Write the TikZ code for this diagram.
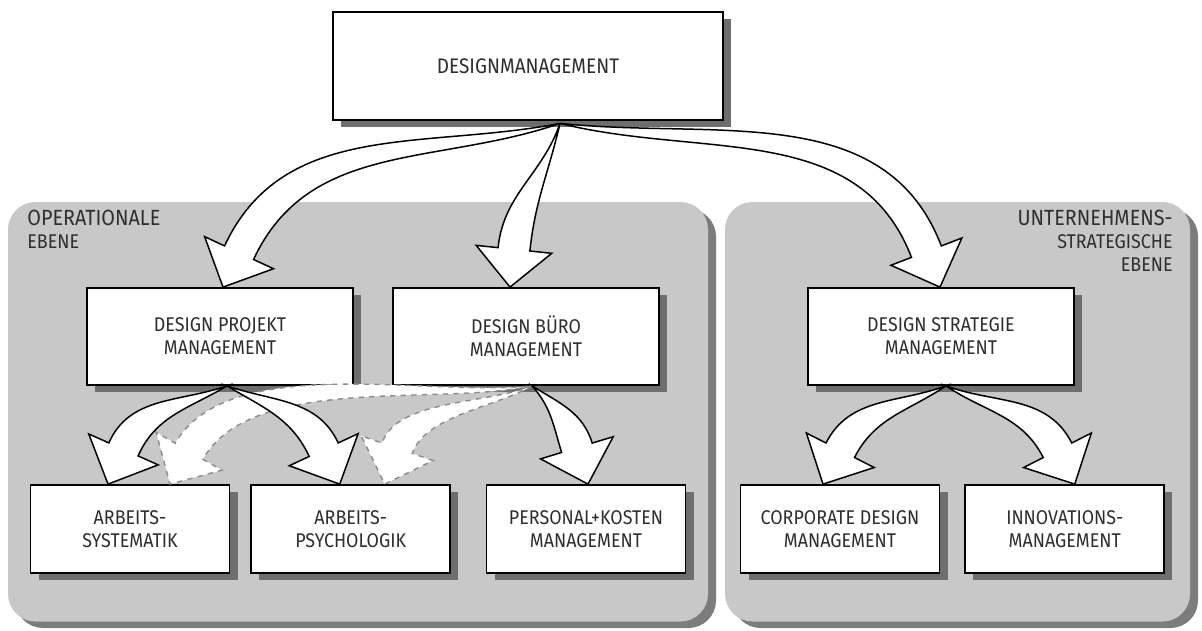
\documentclass[tikz,border=0pt]{standalone}
\usepackage{fontspec}
\setsansfont{Fira Sans}[FakeStretch=0.9]
\usepackage{tikz}
\usetikzlibrary{shadows}
\usetikzlibrary{calc}
\usetikzlibrary{positioning}
\usepackage{xcolor}
\definecolor{mygray}{HTML}{C8C8C8}
\definecolor{mypanelshadow}{HTML}{7C7C7C}
\definecolor{myshadow}{HTML}{6E6E6E}
\definecolor{mytext}{HTML}{2E2E2E}
\definecolor{myghost}{HTML}{8C8C8C}
\tikzset{node distance=0.4cm, every text node part/.style={font={\sffamily\fontsize{11.3}{13}\selectfont}}}
\tikzstyle{block} = [draw=black, fill=white, line width=1pt, align=center, text=mytext, minimum width=5.32cm, minimum height=1.94cm, inner sep=0pt, drop shadow={shadow xshift=0.16cm, shadow yshift=-0.14cm, fill=myshadow, opacity=1}]
\tikzstyle{leaf} = [block, minimum width=3.98cm, minimum height=1.76cm]
\tikzstyle{panel} = [fill=mygray, rounded corners=0.55cm]
\tikzstyle{panelshadow} = [fill=mypanelshadow, rounded corners=0.55cm]
\tikzstyle{fat} = [draw=black, fill=white, line width=0.85pt, line join=miter]
\tikzstyle{ghost} = [draw=myghost, fill=white, dashed, line width=0.8pt, looseness=0.75]
% fat arrow: [style]{from}{tip}{out angle}{head angle}{spread}
\newcommand{\fatarrow}[6][fat]{%
  \pgfmathsetmacro{\outL}{#4+#6}
  \pgfmathsetmacro{\outR}{#4-#6}
  \pgfmathsetmacro{\back}{#5+180}
  \pgfmathsetmacro{\sideL}{#5+90}
  \pgfmathsetmacro{\sideR}{#5-90}
  \coordinate (hb) at ($(#3)+(\back:0.76)$);
  \draw[#1] (#2) to[out=\outL, in=\back] ($(hb)+(\sideL:0.32)$)
    -- ($(hb)+(\sideL:0.76)$) -- (#3) -- ($(hb)+(\sideR:0.76)$)
    -- ($(hb)+(\sideR:0.32)$) to[out=\back, in=\outR] (#2) -- cycle;
}

\begin{document}
\begin{tikzpicture}
  \useasboundingbox (0,0) rectangle (24.04,12.6);
  % panels
  \fill[panelshadow] (0.31,0.04) rectangle (14.32,8.42);
  \fill[panel] (0.16,0.17) rectangle (14.16,8.56);
  \fill[panelshadow] (14.66,0.04) rectangle (23.96,8.42);
  \fill[panel] (14.5,0.17) rectangle (23.8,8.56);
  \node[anchor=north west, align=left, text=mytext, inner sep=0pt] (opLabel) at (0.54,8.4) {\fontsize{12.5}{14}\selectfont OPERATIONALE\\EBENE};
  \node[anchor=north east, align=right, text=mytext, inner sep=0pt] (ueLabel) at (23.46,8.4) {\fontsize{12.5}{14}\selectfont UNTERNEHMENS-\\STRATEGISCHE\\EBENE};
  % boxes
  \node[block, minimum width=7.8cm, minimum height=2.16cm] (dm) at (10.56,11.28) {\fontsize{12}{14}\selectfont DESIGNMANAGEMENT};
  \node[block] (proj) at (4.40,5.87) {DESIGN PROJEKT\\MANAGEMENT};
  \node[block] (buero) at (10.52,5.87) {DESIGN BÜRO\\MANAGEMENT};
  \node[block] (strat) at (18.82,5.87) {DESIGN STRATEGIE\\MANAGEMENT};
  \node[leaf] (sys) at (2.60,2.02) {ARBEITS-\\SYSTEMATIK};
  \node[leaf, right=of sys] (psy) {ARBEITS-\\PSYCHOLOGIK};
  \node[leaf] (pers) at (11.72,2.02) {PERSONAL+KOSTEN\\MANAGEMENT};
  \node[leaf] (corp) at (16.80,2.02) {CORPORATE DESIGN\\MANAGEMENT};
  \node[leaf, right=0.48cm of corp] (innov) {INNOVATIONS-\\MANAGEMENT};
  % arrow ends
  \coordinate (dmOut) at ([xshift=0.64cm, yshift=-0.05cm]dm.south);
  \coordinate (projOut) at ([xshift=0.14cm]proj.south);
  \coordinate (bueroOut) at ([xshift=0.12cm]buero.south);
  \coordinate (stratOut) at ([xshift=0.1cm]strat.south);
  \coordinate (projIn) at ([xshift=0.06cm]proj.north);
  \coordinate (bueroIn) at ([xshift=-0.32cm]buero.north);
  \coordinate (stratIn) at ([xshift=-0.02cm]strat.north);
  \coordinate (sysIn) at ([xshift=-0.44cm]sys.north);
  \coordinate (psyIn) at ([xshift=-0.22cm]psy.north);
  \coordinate (persIn) at ([xshift=0.04cm]pers.north);
  \coordinate (corpIn) at ([xshift=-0.34cm]corp.north);
  \coordinate (innovIn) at ([xshift=0.2cm]innov.north);
  \coordinate (sysGhost) at ([xshift=0.8cm]sys.north);
  \coordinate (psyGhost) at ([xshift=0.68cm]psy.north);
  % dashed links
  \fatarrow[ghost]{bueroOut}{sysGhost}{189}{-120}{3}
  \fatarrow[ghost]{bueroOut}{psyGhost}{207}{-109}{4}
  % links
  \fatarrow{dmOut}{projIn}{195}{-115}{4}
  \fatarrow{dmOut}{bueroIn}{-106}{-96}{3}
  \fatarrow{dmOut}{stratIn}{-10}{-69}{4}
  \fatarrow{projOut}{sysIn}{205}{-114}{6}
  \fatarrow{projOut}{psyIn}{-25}{-65}{6}
  \fatarrow{bueroOut}{persIn}{-40}{-73}{8}
  \fatarrow{stratOut}{corpIn}{207}{-117}{7}
  \fatarrow{stratOut}{innovIn}{-27}{-63}{7}
\end{tikzpicture}
\end{document}
